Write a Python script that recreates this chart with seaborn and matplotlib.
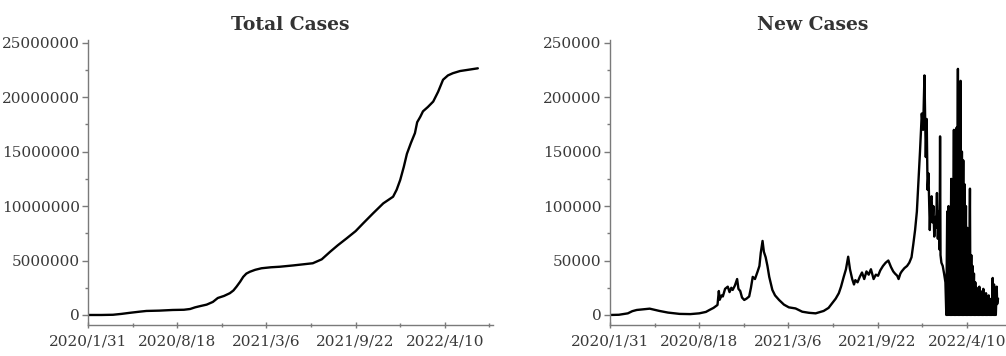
import matplotlib
matplotlib.use("Agg")
import matplotlib.pyplot as plt
import matplotlib.dates as mdates
import numpy as np
import pandas as pd
import seaborn as sns

# ---------------- data ----------------
start_date = "2020-01-31"
tick_labels = ["2020/1/31", "2020/8/18", "2021/3/6", "2021/9/22", "2022/4/10"]

# Total cases: days since 2020-01-31 and cumulative count
total_day = [0, 30, 56, 75, 94, 115, 131, 160, 190, 215,
             229, 240, 252, 266, 280, 291, 305, 318, 326, 333,
             341, 348, 355, 363, 375, 389, 410, 430, 460, 482,
             504, 524, 543, 560, 580, 600, 617, 639, 662, 684,
             692, 700, 708, 715, 724, 733, 738, 745, 751, 762,
             774, 785, 796, 807, 818, 834, 850, 874]
total_val = [0, 0, 20000, 100000, 200000, 300000, 370000, 400000, 460000, 480000,
             550000, 700000, 820000, 950000, 1200000, 1560000, 1750000, 2000000, 2250000, 2600000,
             3050000, 3500000, 3800000, 3970000, 4150000, 4290000, 4380000, 4430000, 4550000, 4650000,
             4750000, 5110000, 5810000, 6400000, 7040000, 7700000, 8420000, 9330000, 10250000, 10860000,
             11500000, 12400000, 13600000, 14800000, 15800000, 16700000, 17700000, 18200000, 18700000, 19100000,
             19600000, 20500000, 21600000, 22000000, 22200000, 22400000, 22500000, 22650000]

# New cases (daily), split in segments
new_day_a = [0, 20, 40, 50, 60, 75, 89, 100, 111, 130, 156, 180, 200, 215, 223, 232, 241]
new_val_a = [0, 200, 1500, 3500, 4600, 5200, 5800, 4800, 3700, 2200, 1000, 800, 1500, 2800, 4600, 6500, 9200]

new_day_b = [244, 246, 250, 253, 258, 264, 268, 272, 275, 280,
             285, 288, 292, 296, 301, 306, 312, 316, 320, 325,
             331, 335, 338, 342, 345, 349, 353, 357, 364, 370,
             379, 390, 401, 416, 431, 446, 461, 479]
new_val_b = [22000, 14000, 18000, 17000, 24000, 26000, 21000, 25000, 23000, 27000,
             33000, 24000, 22000, 16000, 13800, 15000, 17000, 25000, 35000, 33000,
             40000, 45000, 57000, 68000, 58000, 53000, 45000, 35000, 23000, 18000,
             13800, 9500, 7000, 6000, 3000, 2000, 1500, 3700]

new_day_c = [490, 498, 506, 513, 518, 524, 529, 534, 538, 543,
             547, 550, 555, 560, 565, 570, 575, 580, 585, 591,
             596, 601, 606, 612, 618, 624, 630, 635, 639, 644,
             647, 651, 654, 660, 666, 671, 676, 680, 684, 688,
             691, 695, 699]
new_val_c = [6500, 10700, 15000, 20000, 26000, 35000, 42000, 53500, 42000, 33000,
             28000, 32000, 30000, 35000, 39000, 33000, 40000, 37000, 42000, 33000,
             37000, 36000, 41000, 45000, 48000, 50000, 44000, 40000, 38000, 36000,
             33000, 38000, 40000, 43000, 45000, 48000, 53000, 65000, 78000, 95000,
             118000, 150000, 185000]

new_day_d = [702, 705, 708, 710, 712, 714, 717, 719, 721, 723,
             725, 727, 729, 731, 733, 735, 737, 739, 740, 741,
             743, 746, 749, 752, 754]
new_val_d = [170000, 220000, 145000, 180000, 115000, 130000, 78000, 105000, 109000, 85000,
             100000, 72000, 90000, 80000, 112000, 70000, 95000, 60000, 164000, 55000,
             48000, 45000, 38000, 30000, 0]

new_day_e = [756, 757, 759, 760, 762, 763, 765, 766, 768, 769,
             771, 772, 774, 775, 777, 778, 780, 781, 783, 784,
             786, 787, 789, 790, 792, 793, 795, 796, 798, 799,
             801, 802, 804, 805, 807, 808, 810, 811, 813, 814,
             816, 817, 819, 820, 822, 823, 825, 826, 828, 829,
             831, 832, 834, 835, 837, 838, 840, 841, 843, 844,
             846, 847, 849, 850, 852, 853, 855, 856, 858, 859,
             861, 862, 864, 865, 867, 868, 870]
new_val_e = [95000, 0, 100000, 0, 60000, 0, 125000, 0, 90000, 0,
             170000, 0, 140000, 0, 172000, 0, 226000, 0, 180000, 0,
             215000, 0, 150000, 0, 142000, 0, 120000, 0, 100000, 0,
             80000, 0, 70000, 0, 116000, 0, 55000, 0, 45000, 0,
             38000, 0, 30000, 0, 25000, 0, 20000, 0, 26000, 0,
             22000, 0, 18000, 0, 24000, 0, 16000, 0, 20000, 0,
             14000, 0, 18000, 0, 12000, 0, 15000, 0, 34000, 0,
             28000, 0, 22000, 0, 26000, 10000, 15000]

# ---------------- build frames ----------------
t0 = pd.Timestamp(start_date)
total_df = pd.DataFrame({
    "date": t0 + pd.to_timedelta(total_day, unit="D"),
    "cases": total_val,
})
new_day = new_day_a + new_day_b + new_day_c + new_day_d + new_day_e
new_val = new_val_a + new_val_b + new_val_c + new_val_d + new_val_e
assert len(new_day) == len(new_val)
new_df = pd.DataFrame({
    "date": t0 + pd.to_timedelta(new_day, unit="D"),
    "cases": new_val,
})

# ---------------- style ----------------
sns.set_theme(style="white")
plt.rcParams["font.family"] = ["DejaVu Serif"]
plt.rcParams["axes.unicode_minus"] = False

W, H = 1006, 356
fig = plt.figure(figsize=(W / 100, H / 100), dpi=100)
ax1 = fig.add_axes([88 / W, 1 - 325 / H, 405 / W, 285 / H])
ax2 = fig.add_axes([610 / W, 1 - 325 / H, 405 / W, 285 / H])

sns.lineplot(data=total_df, x="date", y="cases", ax=ax1, color="black",
             linewidth=1.7, estimator=None, sort=False)
sns.lineplot(data=new_df, x="date", y="cases", ax=ax2, color="black",
             linewidth=1.7, estimator=None, sort=False)

major_dates = [pd.to_datetime(s, format="%Y/%m/%d") for s in tick_labels]
major_nums = mdates.date2num(major_dates)
step = major_nums[1] - major_nums[0]
minor_nums = [m + step / 2 for m in major_nums]
x_lo = mdates.date2num(t0)
x_hi = x_lo + 908

spine_col = "#7a7a7a"
label_col = "#3a3a3a"

def style(ax, title, ymax, ystep, ylo, yhi):
    ax.set_xlim(x_lo, x_hi)
    ax.set_ylim(ylo, yhi)
    ax.set_xticks(major_nums)
    ax.set_xticklabels(tick_labels)
    ax.set_xticks(minor_nums, minor=True)
    ax.set_yticks(np.arange(0, ymax + 1, ystep))
    ax.set_yticklabels([str(int(v)) for v in np.arange(0, ymax + 1, ystep)])
    ax.set_yticks(np.arange(ystep / 2, ymax, ystep), minor=True)
    ax.set_xlabel("")
    ax.set_ylabel("")
    for s in ["top", "right"]:
        ax.spines[s].set_visible(False)
    for s in ["left", "bottom"]:
        ax.spines[s].set_color(spine_col)
        ax.spines[s].set_linewidth(1.0)
    ax.tick_params(axis="y", which="major", direction="out", length=4, width=1,
                   color=spine_col, labelsize=11, labelcolor=label_col, pad=2, left=True)
    ax.tick_params(axis="y", which="minor", direction="out", length=2, width=1,
                   color=spine_col, left=True)
    ax.tick_params(axis="x", which="major", direction="inout", length=5, width=1,
                   color=spine_col, labelsize=11, labelcolor=label_col, pad=4, bottom=True)
    ax.tick_params(axis="x", which="minor", direction="inout", length=3, width=1,
                   color=spine_col, bottom=True)
    ax.set_title(title, fontsize=13.5, fontweight="bold", color="#333333", pad=7,
                 family="DejaVu Serif")
    ax.grid(False)

style(ax1, "Total Cases", 25000000, 5000000, -920000, 25250000)
style(ax2, "New Cases", 250000, 50000, -9200, 252500)

fig.savefig("out.png", dpi=100)
